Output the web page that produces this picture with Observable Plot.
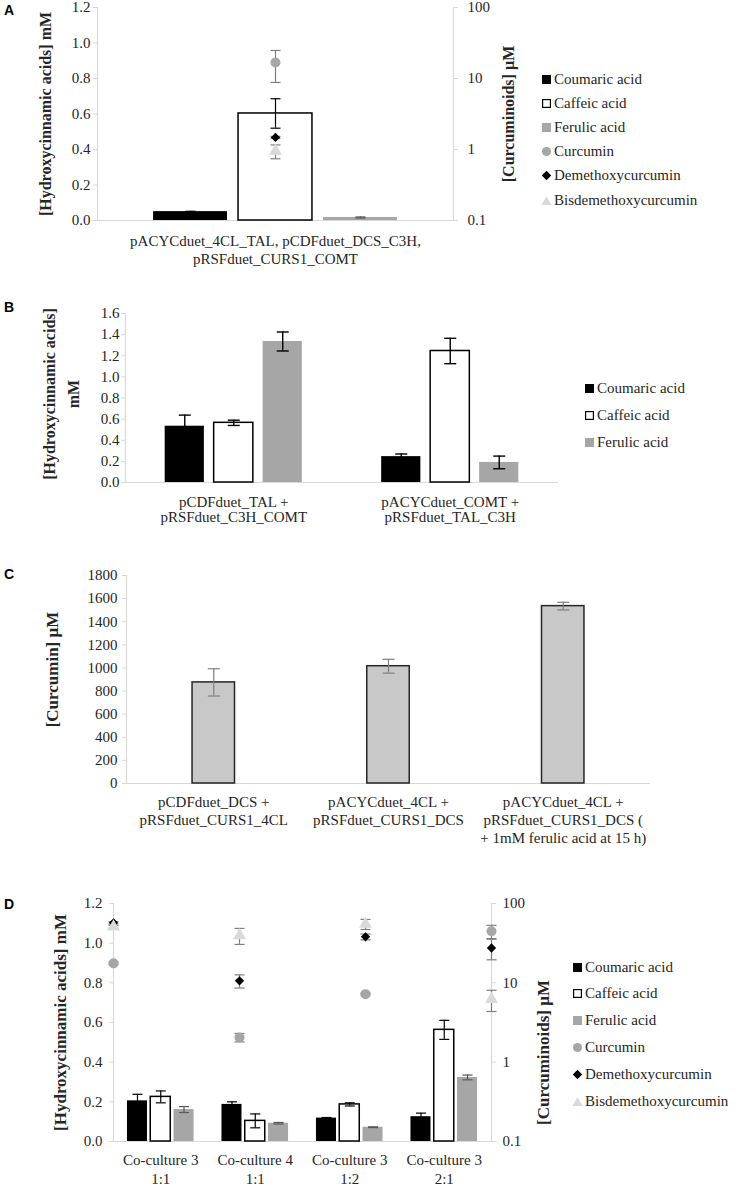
<!DOCTYPE html>
<html>
<head>
<meta charset="utf-8">
<script src="https://cdn.jsdelivr.net/npm/d3@7"></script>
<script src="https://cdn.jsdelivr.net/npm/@observablehq/plot@0.6"></script>
<style>
  body { margin: 0; background: #fff; }
  #root { position: relative; width: 735px; height: 1189px; overflow: hidden; font-family: "Liberation Serif", "Times New Roman", serif; color: #262626; }
  .layer { position: absolute; left: 0; }
  .letter { position: absolute; font: bold 14px "Liberation Sans", Arial, sans-serif; color: #000; }
  .lg { position: absolute; display: flex; align-items: center; font-size: 15px; white-space: nowrap; color: #262626; }
  .lg svg { margin-right: 2px; flex: none; }
</style>
</head>
<body>
<div id="root"></div>
<script>
// ---------- data ----------
const acidSeries = ["Coumaric acid", "Caffeic acid", "Ferulic acid"];
const curcSeries = ["Curcumin", "Demethoxycurcumin", "Bisdemethoxycurcumin"];
const logTicks = [0.1, 1, 10, 100];

// Panel A
const groupsA = ["pACYCduet_4CL_TAL, pCDFduet_DCS_C3H,\npRSFduet_CURS1_COMT"];
const coumaricA = [0.050], coumaricErrA = [0.002];
const caffeicA = [0.603], caffeicErrA = [0.083];
const ferulicA = [0.017], ferulicErrA = [0.003];
const curcuminA = [16.8], curcuminErrA = [8.0];
const demethoxyA = [1.48], demethoxyErrA = [0.05];
const bisdemethoxyA = [0.95], bisdemethoxyErrA = [0.21];
const yTicksA = [0, 0.2, 0.4, 0.6, 0.8, 1.0, 1.2];

// Panel B
const groupsB = ["pCDFduet_TAL +\npRSFduet_C3H_COMT", "pACYCduet_COMT +\npRSFduet_TAL_C3H"];
const coumaricB = [0.533, 0.245], coumaricErrB = [0.105, 0.025];
const caffeicB = [0.565, 1.245], caffeicErrB = [0.025, 0.12];
const ferulicB = [1.335, 0.19], ferulicErrB = [0.09, 0.06];
const yTicksB = [0, 0.2, 0.4, 0.6, 0.8, 1.0, 1.2, 1.4, 1.6];

// Panel C
const groupsC = ["pCDFduet_DCS +\npRSFduet_CURS1_4CL", "pACYCduet_4CL +\npRSFduet_CURS1_DCS", "pACYCduet_4CL +\npRSFduet_CURS1_DCS (\n+ 1mM ferulic acid at 15 h)"];
const curcuminC = [875, 1015, 1535], curcuminErrC = [118, 60, 33];
const yTicksC = [0, 200, 400, 600, 800, 1000, 1200, 1400, 1600, 1800];

// Panel D
const groupsD = ["Co-culture 3\n1:1", "Co-culture 4\n1:1", "Co-culture 3\n1:2", "Co-culture 3\n2:1"];
const coumaricD = [0.205, 0.187, 0.118, 0.125], coumaricErrD = [0.033, 0.013, 0.003, 0.018];
const caffeicD = [0.225, 0.104, 0.187, 0.563], caffeicErrD = [0.030, 0.035, 0.008, 0.048];
const ferulicD = [0.161, 0.092, 0.072, 0.323], ferulicErrD = [0.015, 0.004, 0.002, 0.012];
const curcuminD = [17.6, 2.05, 7.2, 44.6], curcuminErrD = [0.6, 0.25, 0.2, 8.5];
const demethoxyD = [57, 10.6, 38, 27.5], demethoxyErrD = [2, 2.0, 3.2, 8.0];
const bisdemethoxyD = [51, 39.5, 55, 6.2], bisdemethoxyErrD = [2, 9.0, 8.0, 1.85];

// ---------- styles ----------
const W = 735;
const AXIS = "#d9d9d9";
const TXT = "#262626";
const FONT = '"Liberation Serif", "Times New Roman", serif';
const barFill = {"Coumaric acid": "#000000", "Caffeic acid": "#ffffff", "Ferulic acid": "#a6a6a6"};
const barStroke = {"Coumaric acid": "none", "Caffeic acid": "#000000", "Ferulic acid": "none"};
const errColorGray = {"Coumaric acid": "#000000", "Caffeic acid": "#000000", "Ferulic acid": "#595959"};
const errColorBlack = {"Coumaric acid": "#000000", "Caffeic acid": "#000000", "Ferulic acid": "#000000"};
const dotStyle = {
  "Curcumin": {symbol: "circle", r: 5, fill: "#a6a6a6"},
  "Demethoxycurcumin": {symbol: "diamond2", r: 4.2, fill: "#000000"},
  "Bisdemethoxycurcumin": {symbol: "triangle", r: 4.8, fill: "#d9d9d9"}
};
const curcErr = "#7f7f7f";

function capSymbol(half) {
  return {draw(ctx) { ctx.moveTo(-half, 0); ctx.lineTo(half, 0); }};
}

function rowsOf(groups, names, values, errs) {
  const out = [];
  names.forEach((s, j) => groups.forEach((g, i) => out.push({group: g, series: s, value: values[j][i], err: errs[j][i]})));
  return out;
}

function errMarks(rows, {fx, x, color, cap, sw = 1.2}) {
  const base = {x, stroke: color, strokeWidth: sw};
  if (fx) base.fx = fx;
  return [
    Plot.ruleX(rows, {...base, y1: d => d.value - d.err, y2: d => d.value + d.err}),
    Plot.dot(rows, {...base, y: d => d.value - d.err, symbol: cap, r: 1, fill: "none"}),
    Plot.dot(rows, {...base, y: d => d.value + d.err, symbol: cap, r: 1, fill: "none"})
  ];
}

const baseStyle = {fontFamily: FONT, fontSize: "15px", color: TXT, background: "transparent", overflow: "visible"};

function barsPlot(o) {
  const marks = [Plot.ruleY([0], {stroke: AXIS, strokeWidth: 1.2})];
  for (const s of acidSeries) {
    marks.push(Plot.barY(o.rows.filter(d => d.series === s), {fx: "group", x: "series", y1: 0, y2: "value", fill: barFill[s], stroke: barStroke[s], strokeWidth: 1.5}));
  }
  for (const s of acidSeries) {
    marks.push(...errMarks(o.rows.filter(d => d.series === s), {fx: "group", x: "series", color: o.errColor[s], cap: capSymbol(o.cap), sw: o.errW || 1.2}));
  }
  marks.push(Plot.axisY({ticks: o.yTicks, tickFormat: o.fmt, tickSize: 4, tickPadding: o.tickPad, stroke: AXIS, fill: TXT, fontSize: 15, label: null}));
  marks.push(Plot.axisFx({anchor: "bottom", tickSize: 0, tickPadding: o.xPad, lineHeight: o.xLH, fill: TXT, fontSize: 15, label: null}));
  return Plot.plot({
    width: W, height: o.height,
    marginTop: o.mt, marginBottom: o.mb, marginLeft: o.ml, marginRight: o.mr,
    style: baseStyle,
    fx: {domain: o.groups, padding: 0, round: false},
    x: {domain: acidSeries, paddingInner: o.pIn, paddingOuter: o.pOut, round: false, axis: null},
    y: {domain: [0, o.yMax]},
    marks
  });
}

function overlayPlot(o) {
  const marks = [
    Plot.frame({anchor: "left", stroke: AXIS, strokeWidth: 1.2}),
    Plot.text([o.leftTitle], {text: d => d, frameAnchor: "left", textAnchor: "middle", lineAnchor: "middle", dx: o.leftDx, dy: o.leftDy || 0, rotate: -90, fontSize: o.leftFs, fontWeight: "bold", fill: TXT, lineHeight: o.leftLH || 1})
  ];
  if (o.curcRows) {
    marks.push(Plot.frame({anchor: "right", stroke: AXIS, strokeWidth: 1.2}));
    marks.push(Plot.axisY({anchor: "right", ticks: logTicks, tickFormat: d => String(d), tickSize: 4, tickPadding: o.rTickPad, stroke: AXIS, fill: TXT, fontSize: 15, label: null}));
    marks.push(Plot.text([o.rightTitle], {text: d => d, frameAnchor: "right", textAnchor: "middle", lineAnchor: "middle", dx: o.rightDx, dy: o.rightDy || 0, rotate: -90, fontSize: o.rightFs, fontWeight: "bold", fill: TXT}));
    for (const s of curcSeries) {
      const rs = o.curcRows.filter(d => d.series === s);
      marks.push(...errMarks(rs, {x: "group", color: curcErr, cap: capSymbol(o.cap)}));
      marks.push(Plot.dot(rs, {x: "group", y: "value", symbol: dotStyle[s].symbol, r: dotStyle[s].r, fill: dotStyle[s].fill, stroke: "none"}));
    }
  }
  const opts = {
    width: W, height: o.height,
    marginTop: o.mt, marginBottom: o.mb, marginLeft: o.ml, marginRight: o.mr,
    style: baseStyle,
    x: {domain: o.groups, padding: 0, round: false, axis: null},
    marks
  };
  if (o.curcRows) opts.y = {type: "log", domain: [0.1, 100]};
  return Plot.plot(opts);
}

const root = document.getElementById("root");
function place(node, top) {
  const d = document.createElement("div");
  d.className = "layer";
  d.style.top = top + "px";
  d.appendChild(node);
  root.appendChild(d);
}
function letter(t, left, top) {
  const d = document.createElement("div");
  d.className = "letter";
  d.textContent = t;
  d.style.left = left + "px";
  d.style.top = top + "px";
  root.appendChild(d);
}
const swatch = {
  "Coumaric acid": '<rect x="1" y="1" width="9" height="9" fill="#000"/>',
  "Caffeic acid": '<rect x="1.6" y="1.6" width="7.8" height="7.8" fill="#fff" stroke="#000" stroke-width="1.2"/>',
  "Ferulic acid": '<rect x="1" y="1" width="9" height="9" fill="#a6a6a6"/>',
  "Curcumin": '<circle cx="5.5" cy="5.5" r="4.6" fill="#a6a6a6"/>',
  "Demethoxycurcumin": '<path d="M5.5,0.8L10.2,5.5L5.5,10.2L0.8,5.5Z" fill="#000"/>',
  "Bisdemethoxycurcumin": '<path d="M5.5,1.2L10.6,10L0.4,10Z" fill="#d9d9d9"/>'
};
function legend(names, left, firstCenter, gap) {
  names.forEach((n, i) => {
    const d = document.createElement("div");
    d.className = "lg";
    d.style.left = left + "px";
    d.style.top = (firstCenter + i * gap - 10) + "px";
    d.style.height = "20px";
    d.innerHTML = '<svg width="11" height="11" viewBox="0 0 11 11">' + swatch[n] + '</svg>';
    const sp = document.createElement("span");
    sp.textContent = n;
    d.appendChild(sp);
    root.appendChild(d);
  });
}

// ---------- Panel A ----------
const rowsA = rowsOf(groupsA, acidSeries, [coumaricA, caffeicA, ferulicA], [coumaricErrA, caffeicErrA, ferulicErrA]);
const curcRowsA = rowsOf(groupsA, curcSeries, [curcuminA, demethoxyA, bisdemethoxyA], [curcuminErrA, demethoxyErrA, bisdemethoxyErrA]);
const geoA = {height: 270, mt: 7, mb: 50, ml: 97, mr: 282};
place(barsPlot({...geoA, groups: groupsA, rows: rowsA, yMax: 1.2, yTicks: yTicksA, fmt: d3.format(".1f"), tickPad: 3, pIn: 0.13, pOut: 0.66, cap: 5, xPad: 13, xLH: 1.2, errColor: errColorGray}), 0);
place(overlayPlot({...geoA, groups: groupsA, leftTitle: "[Hydroxycinnamic acids] mM", leftDx: -52, leftFs: 16,
  curcRows: curcRowsA, rightTitle: "[Curcuminoids] µM", rightDx: 55, rightFs: 16, rTickPad: 10, cap: 5}), 0);
legend([...acidSeries, ...curcSeries], 541, 79, 24.2);
letter("A", 4, 2);

// ---------- Panel B ----------
const rowsB = rowsOf(groupsB, acidSeries, [coumaricB, caffeicB, ferulicB], [coumaricErrB, caffeicErrB, ferulicErrB]);
const geoB = {height: 230, mt: 13, mb: 48, ml: 125, mr: 177};
place(barsPlot({...geoB, groups: groupsB, rows: rowsB, yMax: 1.6, yTicks: yTicksB, fmt: d3.format(".1f"), tickPad: 2, pIn: 0.2, pOut: 0.81, cap: 6, xPad: 13, xLH: 1.05, errColor: errColorBlack, errW: 1.4}), 300);
place(overlayPlot({...geoB, groups: groupsB, leftTitle: "[Hydroxycinnamic acids]\nmM", leftDx: -66, leftDy: -4, leftFs: 16, leftLH: 1.5}), 300);
legend(acidSeries, 584, 388, 27);
letter("B", 4, 299);

// ---------- Panel C ----------
const rowsC = groupsC.map((g, i) => ({group: g, value: curcuminC[i], err: curcuminErrC[i]}));
const plotC = Plot.plot({
  width: W, height: 293, marginTop: 15, marginBottom: 70, marginLeft: 126, marginRight: 85,
  style: baseStyle,
  x: {domain: groupsC, paddingInner: 0.757, paddingOuter: 0.378, round: false},
  y: {domain: [0, 1800]},
  marks: [
    Plot.ruleY([0], {stroke: AXIS, strokeWidth: 1.2}),
    Plot.frame({anchor: "left", stroke: AXIS, strokeWidth: 1.2}),
    Plot.barY(rowsC, {x: "group", y1: 0, y2: "value", fill: "#c8c8c8", stroke: "#262626", strokeWidth: 1.5}),
    ...errMarks(rowsC, {x: "group", color: curcErr, cap: capSymbol(6)}),
    Plot.axisY({ticks: yTicksC, tickFormat: d3.format("d"), tickSize: 4, tickPadding: 5, stroke: AXIS, fill: TXT, fontSize: 15, label: null}),
    Plot.axisX({anchor: "bottom", tickSize: 0, tickPadding: 11, lineHeight: 1.2, fill: TXT, fontSize: 15, label: null}),
    Plot.text(["[Curcumin] µM"], {text: d => d, frameAnchor: "left", textAnchor: "middle", lineAnchor: "middle", dx: -74, dy: -10, rotate: -90, fontSize: 17, fontWeight: "bold", fill: TXT})
  ]
});
place(plotC, 560);
letter("C", 4, 566);

// ---------- Panel D ----------
const rowsD = rowsOf(groupsD, acidSeries, [coumaricD, caffeicD, ferulicD], [coumaricErrD, caffeicErrD, ferulicErrD]);
const curcRowsD = rowsOf(groupsD, curcSeries, [curcuminD, demethoxyD, bisdemethoxyD], [curcuminErrD, demethoxyErrD, bisdemethoxyErrD]);
const geoD = {height: 309, mt: 23, mb: 48, ml: 113, mr: 244};
place(barsPlot({...geoD, groups: groupsD, rows: rowsD, yMax: 1.2, yTicks: yTicksA, fmt: d3.format(".1f"), tickPad: 7, pIn: 0.14, pOut: 0.6, cap: 5, xPad: 10, xLH: 1.25, errColor: errColorGray}), 880);
place(overlayPlot({...geoD, groups: groupsD, leftTitle: "[Hydroxycinnamic acids] mM", leftDx: -53, leftFs: 17,
  curcRows: curcRowsD, rightTitle: "[Curcuminoids] µM", rightDx: 52, rightDy: 30, rightFs: 17, rTickPad: 7, cap: 5}), 880);
legend([...acidSeries, ...curcSeries], 572, 967, 26.8);
letter("D", 4, 896);
</script>
</body>
</html>
